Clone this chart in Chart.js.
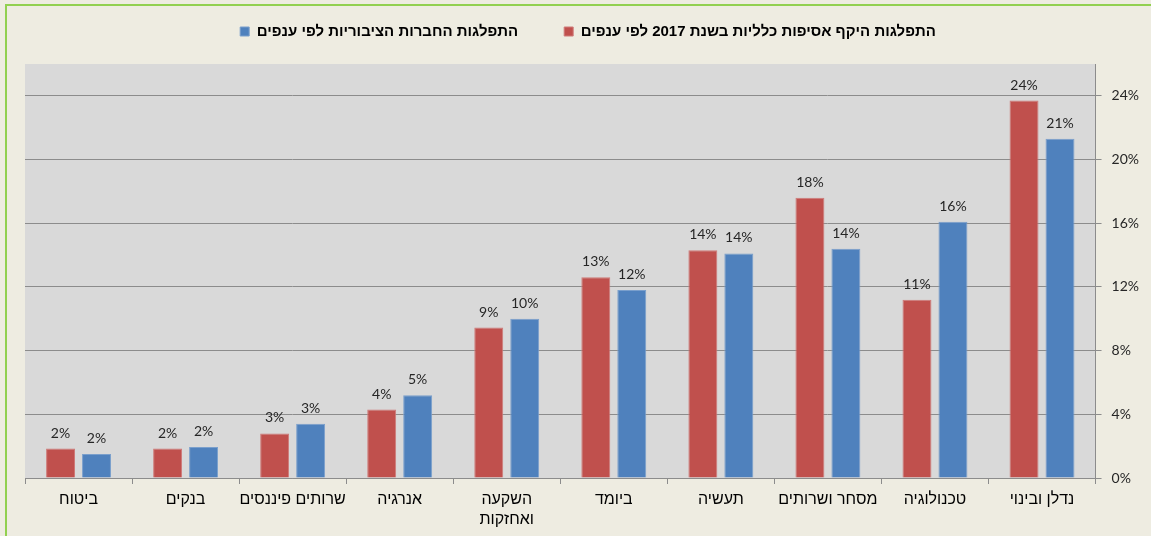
<!DOCTYPE html>
<html><head><meta charset="utf-8">
<script src="https://cdn.jsdelivr.net/npm/chart.js@4"></script>
<style>
html,body{margin:0;padding:0;background:#eeece1;overflow:hidden;}
#wrap{position:relative;width:1151px;height:536px;}
#frame{position:absolute;left:5px;top:4px;width:1200px;height:600px;border-left:2px solid #92d050;border-top:2px solid #92d050;}
canvas{position:absolute;left:0;top:0;}
</style></head><body>
<div id="wrap"><div id="frame"></div><canvas id="c" width="1151" height="536"></canvas></div>
<script>
const categories = ['נדלן ובינוי','טכנולוגיה','מסחר ושרותים','תעשיה','ביומד',['השקעה','ואחזקות'],'אנרגיה','שרותים פיננסים','בנקים','ביטוח'];
const seriesNames = ['התפלגות היקף אסיפות כלליות בשנת 2017 לפי ענפים','התפלגות החברות הציבוריות לפי ענפים'];
const assemblies = [23.7, 11.2, 17.6, 14.3, 12.6, 9.45, 4.3, 2.8, 1.85, 1.85];
const companies  = [21.3, 16.1, 14.4, 14.1, 11.8, 10.0, 5.2, 3.4, 1.95, 1.5];
const yTicks = [0, 4, 8, 12, 16, 20, 24];

const FONT = 'Lato, "Liberation Sans", sans-serif';
const HEB = '"Liberation Sans", sans-serif';
const GRID = '#8c8c8c';

const plotBg = {
  id: 'plotBg',
  beforeDraw(chart) {
    const a = chart.chartArea, ctx = chart.ctx;
    ctx.save();
    ctx.fillStyle = '#d9d9d9';
    ctx.fillRect(a.left, a.top, a.right - a.left, a.bottom - a.top);
    ctx.restore();
  }
};

const valueLabels = {
  id: 'valueLabels',
  afterDatasetsDraw(chart) {
    const ctx = chart.ctx;
    ctx.save();
    ctx.font = '14px ' + FONT;
    ctx.fillStyle = '#262626';
    ctx.textAlign = 'center';
    ctx.textBaseline = 'alphabetic';
    chart.data.datasets.forEach((ds, i) => {
      chart.getDatasetMeta(i).data.forEach((bar, j) => {
        ctx.fillText(Math.round(ds.data[j]) + '%', bar.x, bar.y - 11);
      });
    });
    ctx.restore();
  }
};

const LEG_H = 64, DX = 1, DY = -22;
const legendTweak = {
  id: 'legendTweak',
  beforeInit(chart) {
    const fit = chart.legend.fit;
    chart.legend.fit = function () { fit.call(this); this.height = LEG_H; };
  },
  afterLayout(chart) {
    const l = chart.legend;
    l.left += DX; l.right += DX; l.top += DY; l.bottom += DY;
  }
};

new Chart(document.getElementById('c'), {
  type: 'bar',
  data: {
    labels: categories,
    datasets: [
      { label: seriesNames[0], data: assemblies, backgroundColor: '#c0504d', borderColor: '#cf7a78', borderWidth: 1, categoryPercentage: 0.672, barPercentage: 0.805 },
      { label: seriesNames[1], data: companies, backgroundColor: '#4f81bd', borderColor: '#7a9fcc', borderWidth: 1, categoryPercentage: 0.672, barPercentage: 0.805 }
    ]
  },
  options: {
    responsive: false,
    animation: false,
    events: [],
    layout: { padding: { left: 25, right: 2, top: 0, bottom: 0 } },
    scales: {
      x: {
        reverse: true,
        offset: true,
        grid: { display: true, drawOnChartArea: false, drawTicks: true, tickLength: 6, color: GRID, offset: true },
        border: { display: true, color: GRID },
        ticks: { autoSkip: false, maxRotation: 0, padding: 6, color: '#000', font: { family: HEB, size: 16, lineHeight: 1.25 } }
      },
      y: {
        position: 'right',
        min: 0, max: 26,
        afterBuildTicks: (axis) => { axis.ticks = yTicks.map(v => ({ value: v })); },
        grid: { color: GRID, tickLength: 6 },
        border: { display: true, color: GRID },
        ticks: { padding: 10, color: '#262626', font: { family: FONT, size: 14 }, callback: v => v + '%' }
      }
    },
    plugins: {
      legend: {
        position: 'top', reverse: true,
        labels: { boxWidth: 9, boxHeight: 9, padding: 46, color: '#000', font: { family: HEB, size: 15, weight: 'bold' } }
      },
      tooltip: { enabled: false }
    }
  },
  plugins: [plotBg, valueLabels, legendTweak]
});
</script>
</body></html>
